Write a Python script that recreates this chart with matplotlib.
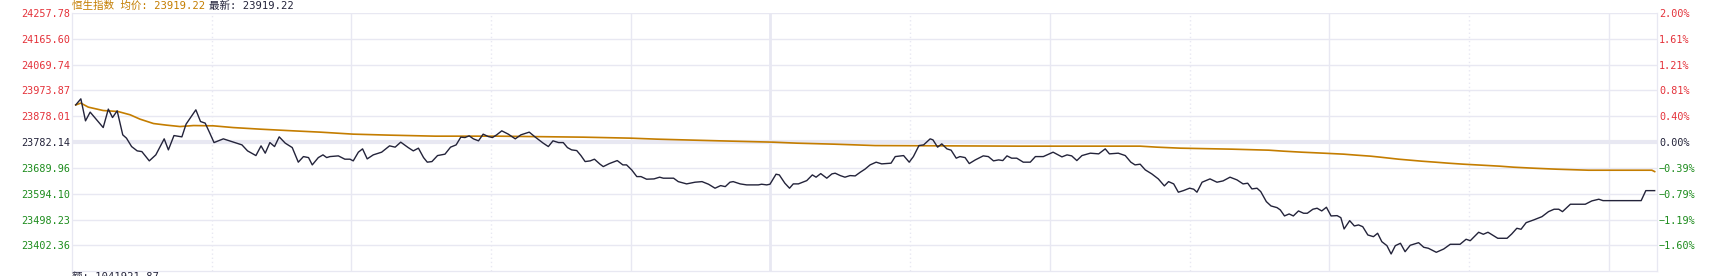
import matplotlib
matplotlib.use('Agg')
import matplotlib.pyplot as plt

# intraday Hang Seng index, minutes since 09:30 (lunch break removed)
prev_close = 23782.14
price_pts = [
    (0.8, 23919.2), (1.9, 23941.7), (2.9, 23860.6), (3.9, 23892.7), (6.7, 23835.9),
    (7.8, 23903.8), (8.7, 23872.8), (9.7, 23897.5), (10.9, 23809.0), (11.7, 23796.8),
    (12.8, 23765.9), (14.0, 23750.0), (15.0, 23747.4), (16.6, 23713.2), (18.0, 23735.3),
    (19.8, 23794.3), (20.7, 23753.7), (21.9, 23806.4), (23.6, 23801.6), (24.5, 23848.5),
    (26.6, 23901.2), (27.6, 23858.1), (28.6, 23852.2), (29.6, 23815.3), (30.5, 23780.6),
    (32.5, 23794.3), (34.3, 23784.3), (36.5, 23772.1), (37.7, 23750.0), (39.5, 23732.7),
    (40.6, 23768.5), (41.5, 23741.5), (42.5, 23780.6), (43.5, 23765.9), (44.5, 23801.6),
    (45.8, 23778.4), (47.3, 23762.2), (48.6, 23708.4), (49.7, 23729.0), (50.8, 23725.3),
    (51.6, 23698.4), (52.9, 23725.3), (53.9, 23735.3), (54.7, 23725.3), (55.4, 23729.0),
    (57.2, 23731.6), (58.6, 23719.4), (59.7, 23719.4), (60.4, 23713.2), (61.5, 23745.2),
    (62.4, 23757.4), (63.4, 23720.5), (64.7, 23735.3), (66.5, 23745.2), (68.2, 23768.5),
    (69.4, 23763.7), (70.6, 23782.1), (72.2, 23762.2), (73.3, 23750.0), (74.4, 23760.0),
    (75.5, 23725.3), (76.3, 23708.4), (77.3, 23710.6), (78.5, 23732.7), (80.1, 23737.9),
    (81.3, 23763.7), (82.5, 23772.1), (83.5, 23800.6), (84.4, 23799.1), (85.3, 23805.4),
    (86.2, 23794.3), (87.3, 23787.0), (88.3, 23811.6), (89.4, 23802.8), (90.3, 23799.1),
    (91.2, 23809.0), (92.3, 23823.8), (93.7, 23811.6), (95.2, 23794.3), (96.4, 23809.0),
    (98.2, 23819.0), (99.5, 23800.6), (101.2, 23778.4), (102.3, 23765.9), (103.3, 23787.0),
    (104.5, 23780.6), (105.5, 23780.6), (106.4, 23762.2), (107.3, 23753.7), (108.4, 23751.1),
    (109.3, 23732.7), (110.2, 23710.6), (111.3, 23713.2), (112.2, 23719.4), (113.4, 23701.0),
    (114.1, 23692.1), (115.4, 23703.2), (117.1, 23714.3), (118.3, 23698.4), (119.1, 23698.4),
    (120.2, 23680.0), (121.3, 23655.3), (122.2, 23655.3), (123.4, 23645.7), (125.0, 23646.8),
    (126.2, 23653.1), (127.0, 23649.4), (129.2, 23649.4), (130.2, 23636.8), (132.0, 23628.4),
    (133.8, 23634.6), (135.3, 23636.8), (136.7, 23627.2), (138.1, 23612.5), (139.3, 23622.1),
    (140.3, 23618.4), (141.3, 23634.6), (142.0, 23636.8), (143.5, 23628.4), (144.9, 23624.7),
    (147.4, 23624.7), (148.1, 23627.2), (149.2, 23624.7), (149.9, 23627.2),
    (151.2, 23664.1), (151.9, 23661.5), (153.1, 23630.9), (154.1, 23612.5), (154.9, 23628.4),
    (156.0, 23628.4), (157.8, 23640.5), (159.0, 23661.5), (159.8, 23653.1), (160.8, 23666.3),
    (162.1, 23649.4), (163.2, 23665.2), (163.9, 23667.8), (165.0, 23659.0), (166.0, 23653.1),
    (167.1, 23659.0), (168.2, 23657.8), (169.3, 23671.5), (170.3, 23682.6), (171.4, 23698.4),
    (172.7, 23708.4), (173.9, 23702.1), (175.9, 23704.7), (176.8, 23729.0), (178.6, 23732.7),
    (179.8, 23708.4), (180.7, 23729.0), (181.9, 23769.6), (182.9, 23772.1), (184.3, 23794.3),
    (184.9, 23790.6), (185.9, 23763.7), (186.8, 23775.8), (187.9, 23757.4), (188.8, 23752.6),
    (189.9, 23723.1), (190.7, 23729.0), (191.8, 23725.3), (192.7, 23703.2), (194.0, 23716.8),
    (195.7, 23731.6), (196.8, 23729.0), (197.9, 23713.2), (199.0, 23716.8), (199.9, 23714.3),
    (200.8, 23731.6), (201.8, 23723.1), (202.9, 23723.1), (204.3, 23708.4), (205.8, 23708.4),
    (206.9, 23729.0), (208.6, 23729.0), (210.7, 23745.2), (212.6, 23727.9), (213.7, 23735.3),
    (214.7, 23731.6), (215.8, 23714.3), (216.9, 23732.7), (218.7, 23741.5), (220.5, 23739.0),
    (221.9, 23757.4), (222.8, 23739.0), (224.7, 23741.5), (226.2, 23732.7), (227.4, 23708.4),
    (228.3, 23698.4), (229.4, 23701.0),
    (230.5, 23680.0), (231.9, 23665.2), (233.3, 23646.8), (234.6, 23621.0), (235.5, 23636.8),
    (236.6, 23628.4), (237.6, 23597.8), (238.7, 23603.7), (240.0, 23612.5), (240.9, 23608.9),
    (241.6, 23597.8), (242.7, 23634.6), (244.4, 23646.8), (245.9, 23634.6), (247.2, 23639.4),
    (248.7, 23653.1), (250.2, 23643.1), (251.5, 23628.4), (252.5, 23630.9), (253.4, 23609.9),
    (254.5, 23612.5), (255.3, 23600.0), (256.5, 23563.1), (257.5, 23547.2), (258.8, 23541.0),
    (259.5, 23532.5), (260.4, 23510.4), (261.4, 23517.7), (262.3, 23510.4), (263.4, 23528.8),
    (264.5, 23520.3), (265.3, 23520.3), (266.5, 23535.1), (267.4, 23538.8), (268.4, 23528.8),
    (269.4, 23542.4), (270.4, 23510.4), (271.7, 23511.5), (272.5, 23504.1), (273.2, 23462.4),
    (274.4, 23493.0), (275.4, 23473.5), (276.3, 23477.2), (277.2, 23470.9), (278.3, 23440.3),
    (279.5, 23434.0), (280.4, 23446.6), (281.3, 23415.6), (282.4, 23400.9), (283.3, 23370.3),
    (284.2, 23400.9), (285.3, 23409.7), (286.3, 23378.7), (287.4, 23402.3),
    (289.2, 23411.9), (290.3, 23395.0), (291.3, 23391.3), (293.0, 23376.5), (294.6, 23388.7),
    (296.0, 23406.0), (298.1, 23406.0), (299.4, 23424.5), (300.3, 23419.3), (302.1, 23450.3),
    (303.1, 23442.9), (304.1, 23450.3), (306.2, 23428.1), (308.2, 23428.1), (309.2, 23444.0),
    (310.3, 23465.0), (311.2, 23461.3), (312.3, 23485.7), (313.9, 23495.6), (315.7, 23507.8),
    (317.1, 23526.2), (318.3, 23535.1), (319.3, 23535.1), (320.1, 23526.2), (321.8, 23553.5),
    (325.0, 23553.5), (326.4, 23565.7), (327.9, 23571.9), (328.8, 23566.8), (337.0, 23566.8),
    (338.0, 23603.6), (339.9, 23603.6),
]
avg_pts = [
    (0.8, 23919.2), (1.9, 23925.9), (3.5, 23911.1), (6.7, 23898.6), (9.9, 23894.9),
    (12.5, 23882.8), (14.6, 23866.9), (17.5, 23850.7), (20.3, 23844.8), (23.2, 23839.6),
    (26.1, 23843.3), (30.4, 23842.2), (34.6, 23835.9), (40.4, 23830.0), (47.5, 23823.8),
    (53.3, 23819.0), (60.4, 23811.6), (68.3, 23807.9), (78.0, 23804.2), (91.2, 23804.2),
    (109.8, 23800.5), (119.9, 23796.9), (125.6, 23793.2), (133.5, 23789.5), (141.7, 23785.8),
    (150.6, 23782.1), (155.7, 23778.4), (163.5, 23774.8), (172.5, 23769.6), (203.2, 23767.4),
    (229.4, 23767.4), (233.0, 23763.7), (238.0, 23760.0), (249.1, 23756.3), (257.0, 23752.6),
    (260.2, 23748.9), (264.1, 23745.2), (268.8, 23741.5), (273.1, 23737.9), (275.9, 23734.2),
    (278.9, 23730.5), (281.0, 23726.8), (284.9, 23719.4), (287.4, 23715.7), (289.9, 23712.0),
    (292.8, 23708.4), (295.6, 23704.7), (298.8, 23701.0), (302.8, 23697.3), (306.7, 23693.6),
    (309.6, 23689.9), (313.9, 23686.2), (318.9, 23682.5), (325.7, 23678.8), (339.3, 23678.8),
    (339.9, 23673.7),
]

left_labels = ['24257.78', '24165.60', '24069.74', '23973.87', '23878.01',
               '23782.14', '23689.96', '23594.10', '23498.23', '23402.36']
right_labels = ['2.00%', '1.61%', '1.21%', '0.81%', '0.40%',
                '0.00%', '\u22120.39%', '\u22120.79%', '\u22121.19%', '\u22121.60%']
steps = [5, 4, 3, 2, 1, 0, -1, -2, -3, -4]

grid_solid = [60, 120, 210, 270, 330]
grid_dotted = [30, 90, 180, 240, 300]
lunch = 150

red = '#e4323a'
green = '#1d8c1d'
dark = '#23233a'
orange = '#c47d00'
gridc = '#e8e8f2'

plt.rcParams['font.family'] = ['DejaVu Sans Mono', 'Noto Sans CJK SC']

fig = plt.figure(figsize=(17.23, 2.76), dpi=100)
ax = fig.add_axes([72 / 1723, 4.7 / 276, 1585 / 1723, 258.3 / 276])

ticks = [prev_close * (1 + 0.004 * k) for k in steps]
ax.set_xlim(0, 340.4)
ax.set_ylim(prev_close * 0.98, prev_close * 1.02)

for t in ticks:
    ax.axhline(t, color=gridc, lw=1, zorder=0)
ax.axhline(prev_close, color=gridc, lw=3, zorder=0)
for m in grid_solid:
    ax.axvline(m, color=gridc, lw=1, zorder=0)
for m in grid_dotted:
    ax.axvline(m, color=gridc, lw=1, ls=(0, (1, 2)), zorder=0)
ax.axvline(lunch, color=gridc, lw=2, zorder=0)

ax.plot([p[0] for p in avg_pts], [p[1] for p in avg_pts], color=orange, lw=1.2, zorder=3)
ax.plot([p[0] for p in price_pts], [p[1] for p in price_pts], color=dark, lw=1.0, zorder=4)

ax.set_xticks([])
ax.set_yticks(ticks)
ax.set_yticklabels(left_labels)
ax.tick_params(axis='y', length=0, pad=1.5, labelsize=7.3)
for lab, k in zip(ax.get_yticklabels(), steps):
    lab.set_color(red if k > 0 else (green if k < 0 else dark))

ax2 = ax.twinx()
ax2.set_ylim(ax.get_ylim())
ax2.set_yticks(ticks)
ax2.set_yticklabels(right_labels)
ax2.tick_params(axis='y', length=0, pad=1.5, labelsize=7.3)
for lab, k in zip(ax2.get_yticklabels(), steps):
    lab.set_color(red if k > 0 else (green if k < 0 else dark))

for a in (ax, ax2):
    for s in a.spines.values():
        s.set_color(gridc)
    a.spines['top'].set_visible(False)

# header: orange part, then the latest price right after it
t1 = fig.text(72 / 1723, 1 - 6 / 276, '恒生指数 均价: 23919.22', color=orange,
              fontsize=7.6, va='center', ha='left')
fig.canvas.draw()
bb = t1.get_window_extent(fig.canvas.get_renderer())
fig.text((bb.x1 + 4) / 1723, 1 - 6 / 276, '最新: 23919.22', color=dark,
         fontsize=7.6, va='center', ha='left')
fig.text(72 / 1723, 1 - 272 / 276, '额: 1041921.87', color=dark,
         fontsize=7.6, va='top', ha='left')

fig.savefig('out.png', dpi=100, facecolor='white')
